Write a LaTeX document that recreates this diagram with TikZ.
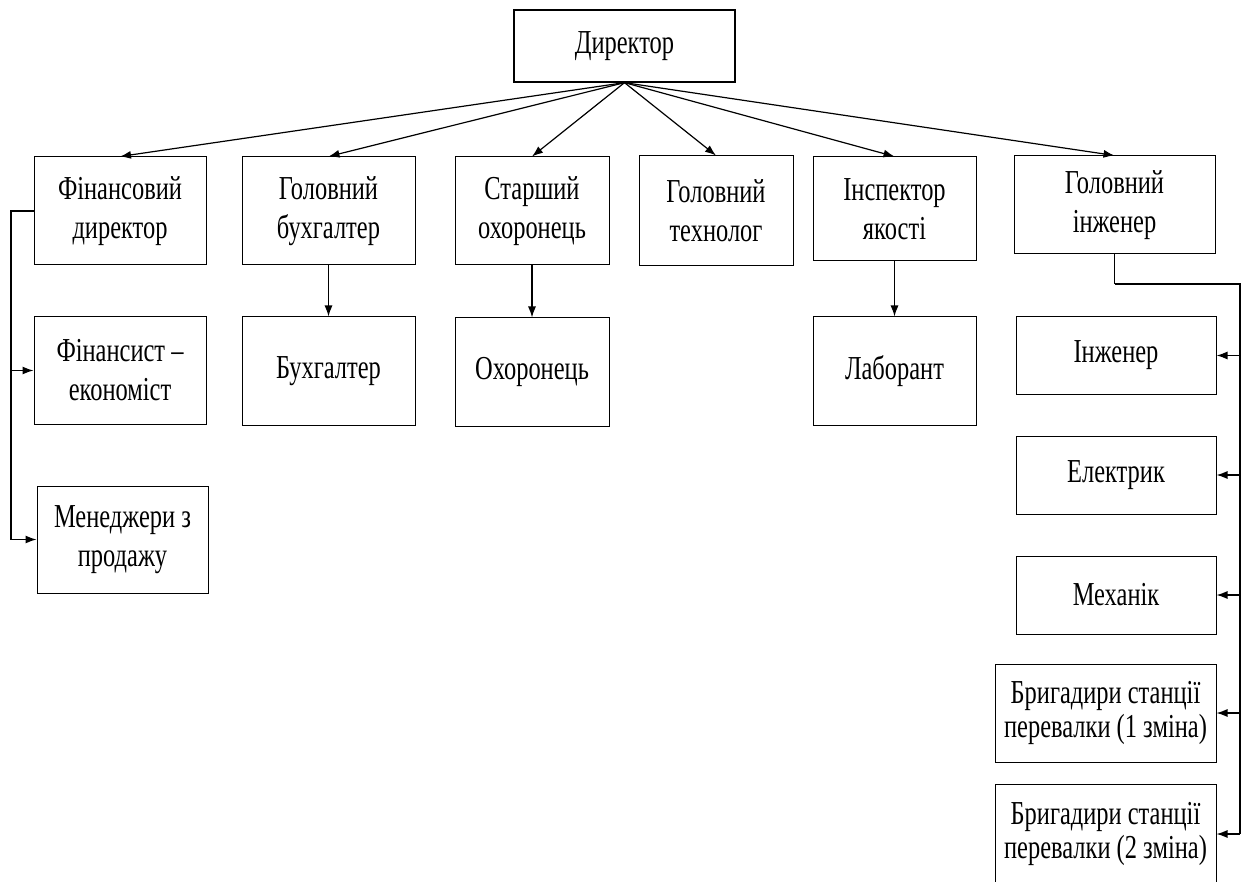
\documentclass[tikz,border=0pt]{standalone}
\usepackage{fontspec}
\setmainfont{Liberation Serif}[FakeStretch=0.73]
\usetikzlibrary{arrows.meta}
\begin{document}
\begin{tikzpicture}[x=1pt,y=-1pt,
  box/.style={draw, line width=1pt, inner sep=0pt, align=center,
    font=\fontsize{33.5}{39}\selectfont},
  bbox/.style={box, font=\fontsize{33.5}{34}\selectfont},
  arr/.style={line width=1.2pt, -{Latex[length=11pt,width=8pt]}},
  trunk/.style={line width=2.2pt}
]
\useasboundingbox (0,0) rectangle (1247,882);
% top
\node[box, line width=1.3pt, minimum width=221pt, minimum height=72pt] (dir) at (624.5,46) {Директор};
% row 1
\node[box, minimum width=172pt, minimum height=108pt] (fin) at (120,211) {Фінансовий\\директор};
\node[box, minimum width=173pt, minimum height=108pt] (gb) at (328.5,211) {Головний\\бухгалтер};
\node[box, minimum width=154pt, minimum height=108pt] (so) at (532,211) {Старший\\охоронець};
\node[box, minimum width=154pt, minimum height=110pt] (gt) at (716,211) {Головний\\технолог};
\node[box, minimum width=163pt, minimum height=104pt] (ins) at (894.5,209) {Інспектор\\якості};
\node[box, minimum width=201pt, minimum height=98pt] (gi) at (1114.5,205) {Головний\\інженер};
% row 2
\node[box, minimum width=172pt, minimum height=107pt] (fa) at (120,370.5) {Фінансист –\\економіст};
\node[box, minimum width=173pt, minimum height=108pt] (b) at (328.5,371) {Бухгалтер};
\node[box, minimum width=154pt, minimum height=108pt] (o) at (532,372) {Охоронець};
\node[box, minimum width=163pt, minimum height=108pt] (lab) at (894.5,371) {Лаборант};
% row 3 left
\node[box, minimum width=171pt, minimum height=107pt] (men) at (122.5,539.5) {Менеджери з\\продажу};
% right column
\node[box, minimum width=200pt, minimum height=77pt] (inz) at (1116,355.5) {Інженер};
\node[box, minimum width=200pt, minimum height=78pt] (el) at (1116,475) {Електрик};
\node[box, minimum width=200pt, minimum height=78pt] (mech) at (1116,595) {Механік};
\node[bbox, minimum width=221pt, minimum height=98pt] (br1) at (1105.5,713) {Бригадири станції\\перевалки (1 зміна)};
\node[bbox, minimum width=221pt, minimum height=100pt] (br2) at (1105.5,834) {Бригадири станції\\перевалки (2 зміна)};
% director arrows
\foreach \t in {fin,gb,so,gt,ins,gi}
  \draw[arr] (dir.south) -- (\t.north);
% vertical arrows
\draw[arr] (gb.south) -- (b.north);
\draw[arr] (so.south) -- (o.north);
\draw[arr] (ins.south) -- (lab.north);
% left connector
\coordinate (lx) at (11,0);
\draw[arr] (fin.west) -- (fin.west -| lx) |- (fa.west);
\draw[arr] (fin.west) -- (fin.west -| lx) |- (men.west);
% right connector
\coordinate (ry) at (0,284);
\coordinate (rx) at (1240,0);
\draw[line width=1.2pt] (gi.south) -- (gi.south |- ry);
\draw[trunk] (gi.south |- ry) -- (rx |- ry) -- (rx |- br2.east);
\foreach \t in {inz,el,mech,br1,br2}
  \draw[arr] (rx |- \t.east) -- (\t.east);
\end{tikzpicture}
\end{document}
